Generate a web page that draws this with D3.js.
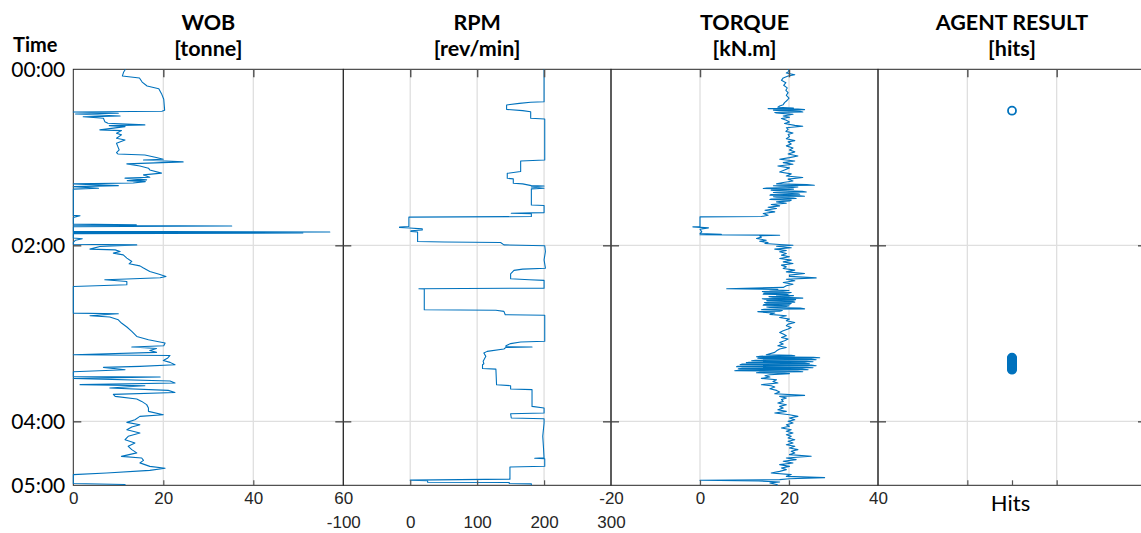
<!DOCTYPE html>
<html><head><meta charset="utf-8">
<script src="https://cdn.jsdelivr.net/npm/d3@7"></script>
<style>body{margin:0;background:#fff;} svg{display:block;}</style>
</head><body><svg id="c" width="1141" height="533"></svg>
<script>
// ---------------- DATA ----------------
const timeMax = 283.6; // minutes shown on the vertical axis
const timeTickValues = [0, 120, 240, 283.6];
const timeTickLabels = ["00:00", "02:00", "04:00", "05:00"];

const panelTitles = [["WOB", "[tonne]"], ["RPM", "[rev/min]"], ["TORQUE", "[kN.m]"], ["AGENT RESULT", "[hits]"]];

const wobTicks = [0, 20, 40, 60];
const rpmTicks = [-100, 0, 100, 200, 300];
const torqueTicks = [-20, 0, 20, 40];
const agentTicks = [1, 1.5, 2];
const agentTickLabels = ["", "Hits", ""];

// [minute, tonne]
const wobData = [[0,11.6],[1.8,11.2],[4.6,10.9],[5.9,14.7],[8.7,15.3],[11.4,16.4],[13.2,19.0],[16.6,19.6],[20.4,20.1],[27.9,20.3],[28.6,19.7],[29.1,0],[30.0,10.0],[30.5,0.5],[31.8,10.4],[32.4,2.2],[33.4,6.7],[35.7,7.0],[36.8,7.7],[37.9,15.9],[38.4,8],[39.1,11.5],[41.3,5.9],[41.8,10.7],[43.6,9.6],[44.7,10.7],[47,9.6],[48.2,11.5],[50.4,9.6],[52.7,9.9],[55,10.2],[56.8,9.6],[57.7,9.9],[58.4,15.9],[59.9,18.2],[61.3,20.0],[61.8,15.6],[63.1,24.4],[64.5,11.9],[65.9,14.8],[67.4,16.7],[68.6,17.0],[70.8,19.6],[72,15.6],[73.6,17],[74.2,11.5],[75.4,16.3],[75.9,12],[76.6,16],[77.5,13.3],[78.1,0],[79.3,10],[80,0],[81.1,5.6],[81.7,0],[99.6,0],[99.9,1.5],[101,0],[105.5,0],[106,14],[106.3,0],[106.8,35.2],[107.3,0],[110.5,0],[110.9,57],[111.3,0],[111.6,51],[112,0],[115,0],[115.5,2],[116.5,0.5],[118,0],[119.3,0],[119.7,14.1],[120.8,5.9],[122.6,3.7],[123.1,9.3],[124.2,10.4],[125.3,8.9],[126.5,11.1],[128.7,11.9],[131,13],[132.6,12.4],[134,14.8],[135.5,15.6],[137.8,17],[139.6,18.9],[141.2,20.6],[142.1,19.3],[143,11.9],[143.5,7],[144.7,11.9],[146.9,11.9],[148.1,0],[166.2,0],[166.7,10],[168,3.7],[168.9,8.1],[170.8,10],[173,10.7],[175.7,11.9],[178.7,13],[182.1,14.1],[184.4,16.7],[186.6,20.4],[188.5,20.1],[189.3,13],[190.3,18.5],[191.7,17],[193,18.5],[194.6,0],[195.1,21.5],[196.8,21],[198.5,20],[199.8,21.5],[201.4,22.6],[202.5,14.8],[203.2,6.7],[204.8,11.5],[206.2,0],[209.4,0],[209.8,19.3],[210.7,0],[212.5,21.5],[213.9,22.6],[215,1.5],[215.7,15.9],[217.3,8.1],[218.9,21.1],[220.3,22.6],[221.6,8.9],[223,9.3],[224.8,14.1],[226.4,15.2],[228.6,16.3],[230.9,16.7],[233.2,16.7],[235.5,20],[236.6,14.8],[238.9,13.7],[240.7,11.9],[242.3,14.8],[243.8,13],[245.7,11.9],[248,14.8],[250.2,12.2],[252.5,11.5],[254.7,13.7],[257,12.2],[259.3,13],[261.5,14.1],[263.9,10.7],[265,15.2],[266.6,15.6],[268.3,14.8],[270.7,17],[272,20.4],[273.4,17],[275.2,7.4],[276.3,0],[282.4,0],[283.1,11.5],[283.6,11.5]];

// [minute, rev/min]
const rpmData = [[0,200],[22.1,200],[22.5,180],[23.2,163],[24.3,144],[27.3,144],[28.2,168],[28.9,180],[33.4,180],[33.9,201],[61.8,201],[62.5,165],[69.7,165],[70.9,145],[74.3,145],[74.7,154],[77.7,154],[78.1,168],[79.3,181],[79.6,200],[80.2,181],[81.1,200],[81.5,181],[92.5,181],[92.9,200],[97.7,200],[98.1,151],[98.4,181],[100.4,181],[100.8,-2],[107.2,-2],[107.6,-16],[107.9,-16],[108.2,-1],[108.8,18],[109.6,18],[110.1,1],[110.5,1],[110.9,11],[117.4,11],[117.7,51],[118.1,135],[119.7,140],[120.3,201],[124.2,202],[129.9,200],[135.6,202],[136.2,168],[137.1,155],[139.4,150],[142.8,150],[143.5,178],[143.9,200],[149.2,200],[149.6,13],[149.8,21],[163.9,21],[164.3,128],[165,140],[167.3,142],[167.7,201],[185.4,201],[185.9,165],[187,150],[188.4,143],[189.1,143],[189.3,182],[189.6,143],[190.7,140],[192.3,115],[193.4,110],[195.7,113],[199.1,109],[200.7,110],[201.4,108],[204,108],[204.4,128],[215,129],[215.7,150],[218,150],[218.4,182],[229.8,182],[230.9,200],[234.3,200],[234.8,150],[237.7,151],[238.2,200],[241.1,200],[250.2,198],[257,199],[264.9,200],[265.2,186],[265.5,201],[270.6,201],[271.1,149],[279.4,149],[280.1,0],[280.4,26],[281.5,26],[281.7,148],[282.4,148],[282.6,181],[283.6,181]];

// [minute, kN.m]
const torqueData = [[0.0,19.8],[1.4,20.1],[2.5,19.4],[3.7,21.3],[4.6,19.8],[5.9,18.7],[7.5,18.3],[9.1,19.3],[10.9,18.8],[12.7,19.6],[14.3,19.3],[15.9,19.8],[17.7,19.4],[19.6,20.0],[21.1,19.6],[22.7,19.0],[24.1,18.7],[25.0,17.9],[25.9,17.5],[26.4,21.0],[26.8,15.3],[27.1,22.0],[27.5,23.5],[27.8,16.5],[28.2,17.9],[28.6,22.5],[29.1,23.1],[29.4,16.8],[29.8,17.2],[30.7,20.9],[31.8,18.7],[32.7,20.1],[33.6,18.3],[34.8,19.4],[35.9,20.1],[37.0,19.0],[38.2,21.3],[38.8,23.1],[39.8,19.4],[40.9,19.8],[42.3,19.3],[43.4,20.9],[44.5,19.8],[45.9,20.1],[47.3,19.4],[48.6,21.3],[49.5,19.8],[50.9,20.5],[52.2,19.4],[53.6,20.9],[55.0,20.1],[56.3,21.3],[57.7,19.8],[59.1,22.0],[60.2,20.1],[61.3,17.9],[62.5,21.3],[63.6,18.7],[64.7,20.9],[65.9,17.5],[67.2,20.1],[68.6,19.0],[70.0,17.9],[71.3,20.5],[72.7,19.4],[73.8,23.1],[74.9,19.8],[76.1,20.9],[77.2,18.7],[78.1,17.2],[78.6,24.0],[79.0,25.7],[79.4,16.5],[79.7,17.9],[80.2,22.0],[80.6,20.9],[81.0,15.0],[81.3,14.2],[81.7,21.0],[82.0,19.4],[82.4,16.0],[82.7,17.2],[83.2,23.0],[83.6,23.9],[84.0,16.5],[84.3,17.9],[84.8,22.0],[85.2,22.4],[85.5,16.0],[85.8,15.7],[86.2,22.5],[86.5,23.5],[86.9,16.5],[87.2,17.2],[87.7,21.0],[88.1,21.6],[88.5,16.0],[88.8,15.7],[89.2,20.5],[89.7,20.1],[90.4,17.2],[91.3,19.4],[92.2,16.0],[93.1,17.9],[94.0,15.3],[94.9,17.2],[96.1,14.6],[97.2,16.8],[98.3,14.2],[99.5,15.3],[100.4,13.8],[100.6,0],[107.2,0],[107.4,-1.6],[108.1,1.9],[109.0,0],[110.8,0.4],[111.9,0],[112.5,4.8],[112.8,0],[113.1,17.9],[113.5,13.4],[114.4,13.8],[115.4,12.7],[116.5,14.9],[117.2,13.4],[118.1,15.3],[118.8,14.6],[119.4,17.9],[119.9,20.9],[120.6,17.2],[121.7,20.5],[122.6,16.8],[123.5,19.4],[124.4,17.9],[125.6,19.4],[126.7,18.3],[127.8,20.1],[129.0,17.9],[130.1,20.5],[131.3,18.7],[132.4,20.9],[133.5,18.3],[134.7,19.4],[135.8,18.7],[136.9,21.3],[138.1,19.4],[139.2,23.5],[140.3,20.1],[141.2,20.1],[142.2,26.1],[143.1,19.4],[144.2,21.3],[145.3,18.7],[146.5,20.9],[147.6,19.4],[148.7,18.7],[149.6,6.0],[150.0,17.5],[150.3,15.7],[150.8,20.0],[151.2,18.7],[151.5,14.0],[151.9,14.6],[152.2,20.5],[152.6,19.4],[152.9,14.5],[153.3,14.2],[153.6,19.8],[154.0,17.2],[154.3,21.0],[154.6,20.1],[155.0,15.5],[155.3,16.4],[155.7,22.0],[156.0,23.1],[156.4,14.0],[156.7,14.6],[157.0,21.5],[157.4,20.9],[157.7,15.0],[158.0,15.3],[158.4,21.0],[158.7,21.3],[159.0,14.5],[159.4,14.9],[159.7,20.5],[160.1,20.1],[160.4,14.5],[160.8,14.2],[161.2,20.0],[161.7,19.4],[162.0,15.0],[162.4,15.7],[162.8,22.5],[163.3,23.5],[163.6,14.5],[163.9,13.8],[164.4,18.5],[164.9,17.9],[165.2,13.0],[165.5,13.4],[166.2,16.8],[167.1,15.7],[168.0,19.4],[169.2,17.9],[170.3,20.1],[171.4,19.4],[172.6,21.3],[173.7,19.8],[174.8,19.4],[176.0,20.5],[177.1,19.8],[178.3,18.7],[179.4,17.9],[180.5,18.7],[181.7,19.4],[182.8,18.3],[183.9,19.8],[185.1,19.0],[186.2,17.9],[187.3,18.7],[188.5,17.5],[189.6,19.4],[190.7,17.9],[191.9,17.2],[193.0,16.8],[194.6,14.9],[194.9,20.5],[195.3,21.3],[195.6,13.5],[196.0,12.7],[196.3,25.5],[196.6,26.9],[196.9,13.0],[197.3,14.2],[197.6,25.0],[198.0,26.1],[198.3,12.5],[198.7,11.6],[199.0,24.0],[199.4,25.4],[199.7,11.0],[200.0,10.4],[200.3,23.5],[200.7,24.6],[201.0,9.5],[201.4,9.0],[201.7,25.0],[202.1,26.1],[202.4,8.5],[202.8,8.2],[203.1,24.0],[203.5,25.4],[203.8,9.5],[204.1,8.6],[204.4,23.0],[204.8,24.3],[205.1,9.0],[205.5,7.8],[205.8,22.0],[206.2,23.1],[206.5,13.5],[206.9,12.7],[207.2,19.0],[207.5,20.1],[208.2,15.7],[208.9,14.6],[209.8,15.7],[210.7,13.8],[211.6,17.2],[212.8,16.4],[213.9,17.5],[215.0,13.8],[215.7,16.0],[216.6,16.8],[217.8,15.7],[218.9,17.2],[220.0,17.9],[221.2,16.8],[222.3,23.5],[223.0,17.9],[224.1,19.4],[225.2,18.3],[226.4,18.7],[227.5,17.5],[228.7,19.4],[229.8,17.9],[230.9,18.7],[232.1,17.5],[233.2,19.4],[234.3,16.8],[235.5,20.1],[236.6,22.0],[237.7,20.1],[238.9,21.3],[240.0,19.8],[241.1,20.9],[242.3,19.4],[243.4,20.1],[244.5,18.3],[245.7,20.5],[246.8,19.4],[247.9,20.9],[249.1,19.4],[250.2,20.5],[251.4,19.8],[252.5,21.3],[253.6,19.8],[254.8,20.9],[255.9,19.4],[257.0,21.3],[258.2,20.1],[259.3,22.0],[260.4,20.5],[261.6,21.3],[262.7,20.1],[263.8,25.0],[265.0,19.4],[266.1,21.6],[267.2,18.7],[268.4,20.9],[269.5,17.9],[270.7,20.1],[271.8,18.3],[272.9,19.4],[274.1,17.9],[275.2,16.0],[276.3,20.5],[277.5,19.4],[278.4,28.0],[279.1,20.1],[279.7,17.9],[280.2,0],[280.6,13.1],[281.3,17.9],[282.0,15.7],[283.1,17.2],[283.6,17.5]];

// minutes at which the agent reported a hit
const hitTimes = [28.2, 196.6, 197.0, 197.5, 197.9, 198.4, 198.8, 199.3, 199.7, 200.2, 200.6, 201.1, 201.5, 202.0, 202.4, 202.9, 203.3, 203.8, 204.2, 204.8];

// ---------------- LAYOUT ----------------
const plotTop = 69.3, plotBottom = 485.3;
const edges = [73.3, 343.3, 611, 878, 1146];
const blue = "#0072BD", axisCol = "#262626", gridCol = "#dfdfdf";
const numFont = "'Liberation Sans', Arial, sans-serif";
const txtFont = "Lato, 'Open Sans', sans-serif";

const svg = d3.select("#c");
const y = d3.scaleLinear().domain([0, timeMax]).range([plotTop, plotBottom]);

const panels = [
  {domain:[0,60], ticks:wobTicks, labels:wobTicks.map(String), row:0, data:wobData},
  {domain:[-100,300], ticks:rpmTicks, labels:rpmTicks.map(String), row:1, data:rpmData},
  {domain:[-20,40], ticks:torqueTicks, labels:torqueTicks.map(String), row:0, data:torqueData},
  {domain:[0,3], ticks:agentTicks, labels:agentTickLabels, row:2, data:null}
];
panels.forEach((p,i)=>{ p.x = d3.scaleLinear().domain(p.domain).range([edges[i], edges[i+1]]); });

const defs = svg.append("defs");
panels.forEach((p,i)=>{
  defs.append("clipPath").attr("id","clip"+i).append("rect")
    .attr("x", edges[i]-1).attr("y", plotTop-1)
    .attr("width", edges[i+1]-edges[i]+2).attr("height", plotBottom-plotTop+2);
});

const gGrid = svg.append("g");
const gFrame = svg.append("g");
const gData = svg.append("g");
const gAxes = svg.append("g");

const interiorTime = timeTickValues.filter(t => t > 0 && t < timeMax);

panels.forEach((p,i)=>{
  const x = p.x;
  const x0 = edges[i], x1 = edges[i+1];
  const gridVals = (i===3) ? [1,2] : p.ticks.filter(t => t > p.domain[0] && t < p.domain[1]);
  gGrid.selectAll(null).data(gridVals).enter().append("line")
    .attr("x1", d=>x(d)).attr("x2", d=>x(d)).attr("y1", plotTop).attr("y2", plotBottom)
    .attr("stroke", gridCol).attr("stroke-width", 1.3);
  gGrid.selectAll(null).data(interiorTime).enter().append("line")
    .attr("x1", x0).attr("x2", x1).attr("y1", d=>y(d)).attr("y2", d=>y(d))
    .attr("stroke", gridCol).attr("stroke-width", 1.3);
  gFrame.append("rect").attr("x", x0).attr("y", plotTop).attr("width", x1-x0).attr("height", plotBottom-plotTop)
    .attr("fill","none").attr("stroke", axisCol).attr("stroke-width", 1);

  const top = gAxes.append("g").attr("transform", `translate(0,${plotTop})`)
    .call(d3.axisTop(x).tickValues(gridVals).tickSize(-8).tickFormat(""));
  top.select(".domain").remove();
  top.selectAll("line").attr("stroke", "#555").attr("stroke-width", 1.5);

  const bot = gAxes.append("g").attr("transform", `translate(0,${plotBottom})`)
    .call(d3.axisBottom(x).tickValues(p.ticks).tickSize(-5).tickFormat((d,k)=>p.labels[k]));
  bot.select(".domain").remove();
  bot.selectAll("line").attr("stroke", "#555").attr("stroke-width", 1.2)
    .attr("display", d => (d===p.domain[0]||d===p.domain[1]) ? "none" : null);
  const t = bot.selectAll("text").attr("dy", null).attr("fill", axisCol);
  if (p.row === 0) t.attr("y", 18.7).attr("font-family", numFont).attr("font-size", 17);
  else if (p.row === 1) t.attr("y", 42.8).attr("font-family", numFont).attr("font-size", 17);
  else t.attr("y", 25.5).attr("x", -2).attr("font-family", txtFont).attr("font-size", 22).attr("fill", "#000");

  const lt = gAxes.append("g").attr("transform", `translate(${x0},0)`)
    .call(d3.axisLeft(y).tickValues(interiorTime).tickSize(-8).tickFormat(""));
  lt.select(".domain").remove();
  lt.selectAll("line").attr("stroke", "#444").attr("stroke-width", 1.3);
  const rt = gAxes.append("g").attr("transform", `translate(${x1},0)`)
    .call(d3.axisRight(y).tickValues(interiorTime).tickSize(-8).tickFormat(""));
  rt.select(".domain").remove();
  rt.selectAll("line").attr("stroke", "#444").attr("stroke-width", 1.3);

  const cx = (x0 + x1) / 2;
  svg.append("text").attr("x", cx).attr("y", 29.5).attr("text-anchor","middle")
    .attr("font-family", txtFont).attr("font-weight","bold").attr("font-size", 21.5).attr("fill","#000")
    .text(panelTitles[i][0]);
  svg.append("text").attr("x", cx).attr("y", 55.5).attr("text-anchor","middle")
    .attr("font-family", txtFont).attr("font-weight","bold").attr("font-size", 21.5).attr("fill","#000")
    .text(panelTitles[i][1]);

  if (p.data) {
    const line = d3.line().x(d=>x(d[1])).y(d=>y(d[0]));
    gData.append("path").attr("clip-path", `url(#clip${i})`).datum(p.data)
      .attr("d", line).attr("fill","none").attr("stroke", blue).attr("stroke-width", 1.1)
      .attr("stroke-linejoin","round");
  }
});

const ap = panels[3];
gData.append("g").attr("clip-path","url(#clip3)").selectAll("circle").data(hitTimes).enter().append("circle")
  .attr("cx", ap.x(agentTicks[1])).attr("cy", d=>y(d)).attr("r", 4)
  .attr("fill","none").attr("stroke", blue).attr("stroke-width", 1.8);

const yl = gAxes.append("g").attr("transform", `translate(${edges[0]},0)`)
  .call(d3.axisLeft(y).tickValues(timeTickValues).tickSize(0).tickPadding(8).tickFormat((d,k)=>timeTickLabels[k]));
yl.select(".domain").remove();
yl.selectAll("text").attr("dy", null).attr("y", 7.5).attr("font-family", txtFont).attr("font-size", 21).attr("fill","#000");

svg.append("text").attr("x", 13).attr("y", 52).attr("font-family", txtFont).attr("font-weight","bold")
  .attr("font-size", 20).attr("fill","#000").text("Time");
</script></body></html>
